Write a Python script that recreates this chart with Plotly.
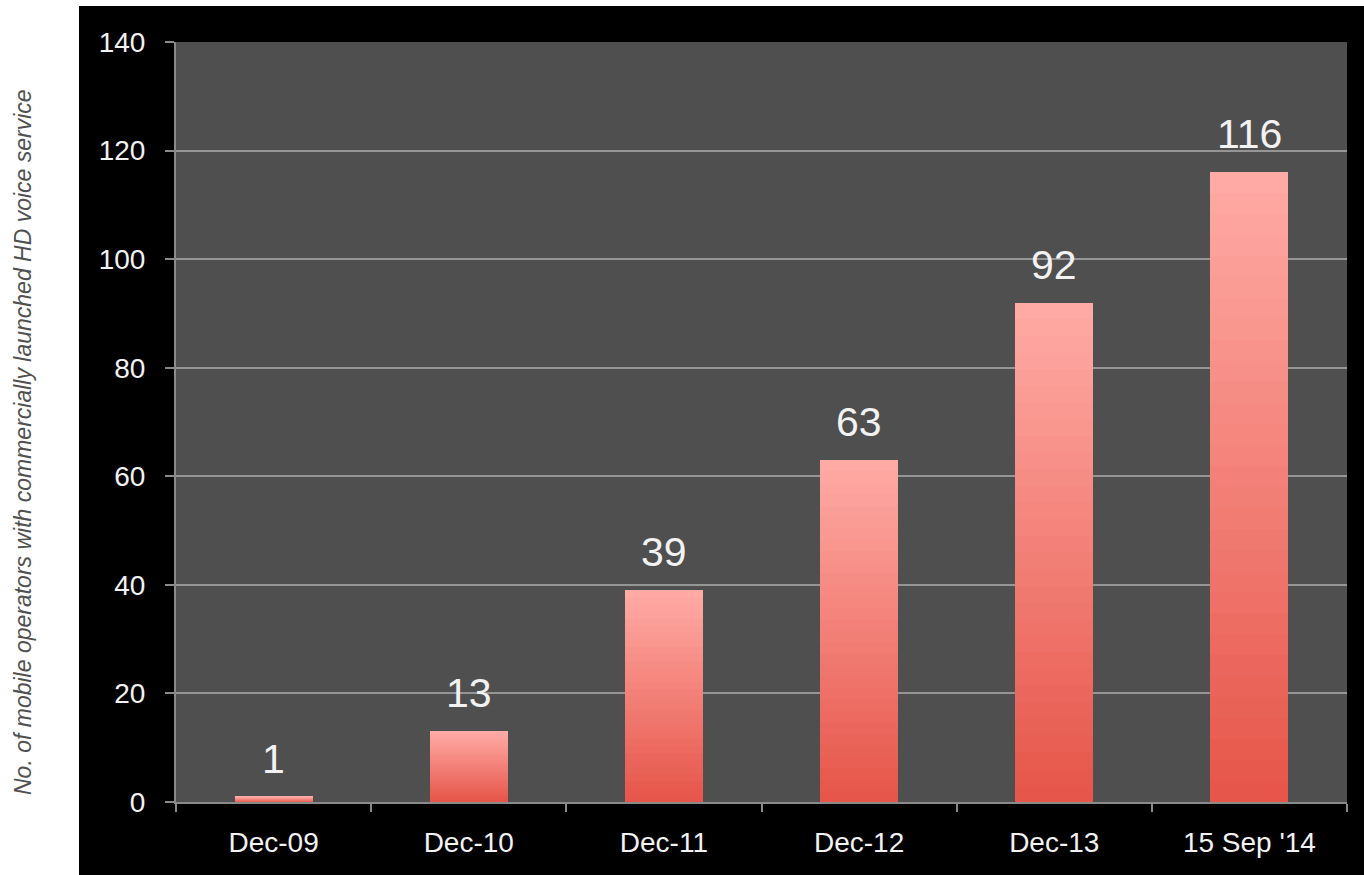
import plotly.graph_objects as go

categories = ["Dec-09", "Dec-10", "Dec-11", "Dec-12", "Dec-13", "15 Sep '14"]
values = [1, 13, 39, 63, 92, 116]
y_ticks = [0, 20, 40, 60, 80, 100, 120, 140]
y_title = "No. of mobile operators with commercially launched HD voice service"

W, H = 1364, 875
L, R, T, B = 176, 17, 42, 73
pw, ph = W - L - R, H - T - B

top_rgb = (255, 170, 164)
bot_rgb = (230, 86, 74)
N = 30

fig = go.Figure()
for k in range(N):
    f = k / (N - 1)
    c = tuple(int(round(bot_rgb[i] + (top_rgb[i] - bot_rgb[i]) * f)) for i in range(3))
    fig.add_trace(go.Bar(
        x=categories, y=[v / N for v in values],
        marker=dict(color="rgb(%d,%d,%d)" % c, line=dict(width=0)),
        hoverinfo="skip", showlegend=False,
    ))

for cat, v in zip(categories, values):
    fig.add_annotation(x=cat, y=v, text=str(v), showarrow=False,
                       yanchor="middle", yshift=38,
                       font=dict(family="Liberation Sans, Arial", size=41, color="#f2f2f2"))

fig.add_annotation(xref="paper", yref="paper",
                   x=(23 - L) / pw, y=(802 - 442) / ph,
                   text="<i>" + y_title + "</i>", textangle=-90, showarrow=False,
                   xanchor="center", yanchor="middle",
                   font=dict(family="Liberation Sans, Arial", size=23, color="#505050"))

fig.add_shape(type="rect", xref="paper", yref="paper", layer="below",
              x0=(79 - L) / pw, x1=(W + 5 - L) / pw,
              y0=-(H + 5 - 802) / ph, y1=1 + (T - 6) / ph,
              fillcolor="#000000", line=dict(width=0))
fig.add_shape(type="rect", xref="paper", yref="paper", layer="below",
              x0=0, x1=1, y0=0, y1=1,
              fillcolor="#4f4f4f", line=dict(width=0))

fig.update_layout(
    width=W, height=H,
    margin=dict(l=L, r=R, t=T, b=B),
    paper_bgcolor="#ffffff", plot_bgcolor="rgba(0,0,0,0)",
    barmode="stack", bargap=0.6,
    font=dict(family="Liberation Sans, Arial"),
    xaxis=dict(type="category", showline=True, linecolor="#8a8a8a", linewidth=2,
               ticks="outside", tickson="boundaries", ticklen=8, tickcolor="#8a8a8a",
               tickwidth=2, showgrid=False, ticklabelstandoff=14,
               tickfont=dict(size=28, color="#f2f2f2")),
    yaxis=dict(range=[0, 140], tickvals=y_ticks, showline=True, linecolor="#8a8a8a",
               linewidth=2, ticks="outside", ticklen=9, tickcolor="#8a8a8a", tickwidth=2,
               showgrid=True, gridcolor="#959595", gridwidth=1.5, zeroline=False,
               ticklabelstandoff=14,
               tickfont=dict(size=28, color="#f2f2f2")),
)

fig.write_html("out.html")
